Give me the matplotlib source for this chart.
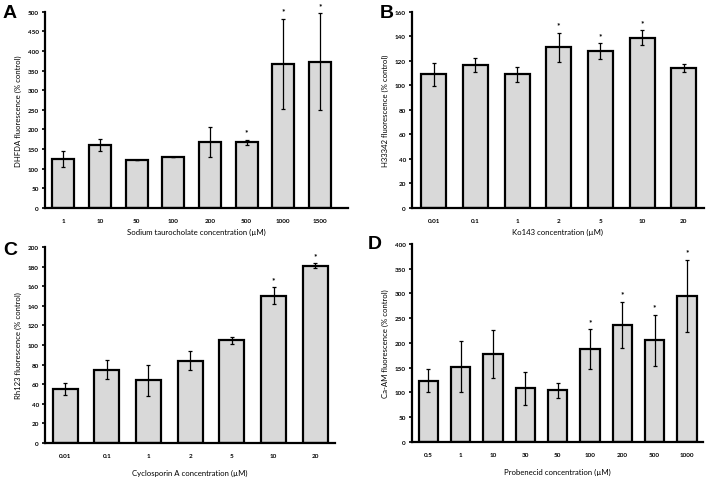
import matplotlib.pyplot as plt

# =====================================================
# DATA
# =====================================================
A_LABELS = ["1", "10", "50", "100", "200", "500", "1000", "1500"]
A_MEAN = [125, 161, 123, 129, 169, 167, 367, 373]
A_ERR = [21, 15, 0, 0, 38, 7, 115, 123]
A_SIG = [0, 0, 0, 0, 0, 1, 1, 1]

B_LABELS = ["0.01", "0.1", "1", "2", "5", "10", "20"]
B_MEAN = [109, 116.5, 109, 131, 128, 139, 114]
B_ERR = [9.5, 6, 6, 12, 6.3, 6, 3]
B_SIG = [0, 0, 0, 1, 1, 1, 0]

C_LABELS = ["0.01", "0.1", "1", "2", "5", "10", "20"]
C_MEAN = [55, 75, 64, 84, 105, 150.5, 181]
C_ERR = [6, 9.5, 16, 9.5, 3.5, 8.5, 2.5]
C_SIG = [0, 0, 0, 0, 0, 1, 1]

D_LABELS = ["0.5", "1", "10", "30", "50", "100", "200", "500", "1000"]
D_MEAN = [124, 152, 178, 108, 104, 188, 236, 205, 295]
D_ERR = [23.5, 51, 49, 32.5, 15.5, 40, 47, 52, 73]
D_SIG = [0, 0, 0, 0, 0, 1, 1, 1, 1]

# =====================================================
# STYLE
# =====================================================
plt.rcParams.update({
    "font.family": ["Lato", "DejaVu Sans"],
    "font.size": 6,
})

BAR_COLOR = "#d9d9d9"

PANELS = [
    # letter, labels, mean, err, sig, ylabel, xlabel, ymax, ystep, rect, xlim, letter pos, xlabel pad
    ("A", A_LABELS, A_MEAN, A_ERR, A_SIG,
     "DHFDA fluorescence (% control)", "Sodium taurocholate concentration (\u00b5M)",
     500, 50, [0.0636, 0.5655, 0.428, 0.408], (-0.5, 7.77), (0.004, 0.99), 4),
    ("B", B_LABELS, B_MEAN, B_ERR, B_SIG,
     "H33342 fluorescence (% control)", "Ko143 concentration (\u00b5M)",
     160, 20, [0.582, 0.5655, 0.412, 0.408], (-0.52, 6.48), (0.537, 0.99), 4),
    ("C", C_LABELS, C_MEAN, C_ERR, C_SIG,
     "Rh123 fluorescence (% control)", "Cyclosporin A concentration (\u00b5M)",
     200, 20, [0.0636, 0.0769, 0.41, 0.4075], (-0.48, 6.48), (0.004, 0.497), 8),
    ("D", D_LABELS, D_MEAN, D_ERR, D_SIG,
     "Ca-AM fluorescence (% control)", "Probenecid concentration (\u00b5M)",
     400, 50, [0.582, 0.079, 0.411, 0.412], (-0.5, 8.5), (0.52, 0.51), 8),
]

fig = plt.figure(figsize=(7.08, 4.81), dpi=100)

for (letter, labels, mean, err, sig, ylabel, xlabel, ymax, ystep,
     rect, xlim, lpos, xpad) in PANELS:
    ax = fig.add_axes(rect)
    x = list(range(len(labels)))

    ax.bar(x, mean, width=0.6, color=BAR_COLOR, edgecolor="black",
           linewidth=1.6, zorder=2)
    ax.errorbar(x, mean, yerr=err, fmt="none", ecolor="black",
                elinewidth=0.9, capsize=1.5, capthick=0.9, zorder=3)

    # significance stars
    for xi, m, e, s in zip(x, mean, err, sig):
        if s:
            ax.annotate("*", xy=(xi, m + e), xytext=(0, 3),
                        textcoords="offset points", ha="center",
                        va="bottom", fontsize=6, fontweight="bold",
                        annotation_clip=False)

    ax.set_xlim(*xlim)
    ax.set_ylim(0, ymax)
    ax.set_yticks(range(0, ymax + 1, ystep))
    ax.set_xticks(x)
    ax.set_xticklabels(labels, fontweight="bold", fontsize=4.6)
    for t in ax.get_yticklabels():
        t.set_fontweight("bold")
        t.set_fontsize(4.6)

    ax.tick_params(axis="x", length=0, pad=7)
    ax.tick_params(axis="y", length=2, width=1.2, direction="out", pad=2.5)

    for side in ["top", "right"]:
        ax.spines[side].set_visible(False)
    for side in ["left", "bottom"]:
        ax.spines[side].set_linewidth(1.6)

    ax.set_ylabel(ylabel, fontsize=5.6, labelpad=4)
    ax.set_xlabel(xlabel, fontsize=5.6, labelpad=xpad)

    fig.text(lpos[0], lpos[1], letter, fontsize=14, fontweight="bold",
             family="Liberation Sans", ha="left", va="top")

plt.savefig("out.png", dpi=100)
plt.close()
